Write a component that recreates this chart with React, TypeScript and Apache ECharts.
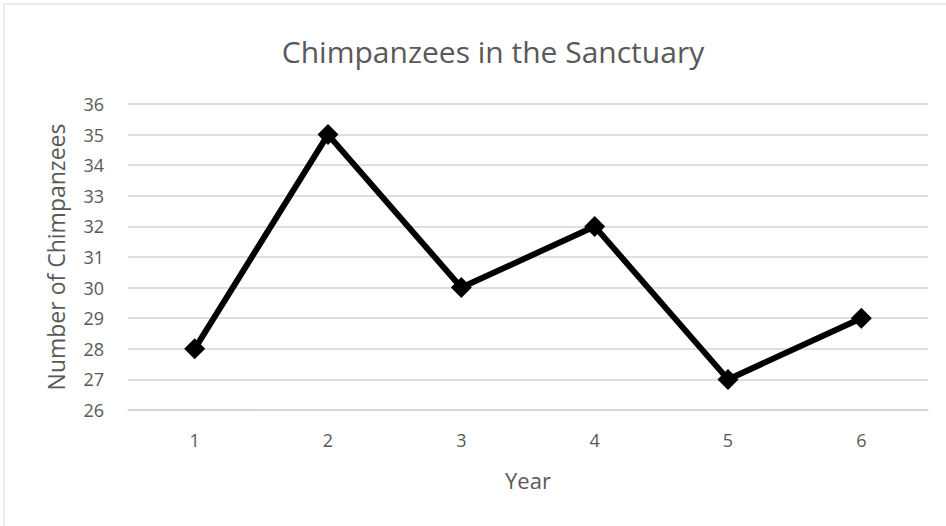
import React, { useEffect, useRef } from "react";
import * as echarts from "echarts";

const years = ["1", "2", "3", "4", "5", "6"];
const chimps = [28, 35, 30, 32, 27, 29];
const titleText = "Chimpanzees in the Sanctuary";
const xName = "Year";
const yName = "Number of Chimpanzees";

const FONT = "'Open Sans', 'Noto Sans', sans-serif";

export default function App() {
  const ref = useRef<HTMLDivElement>(null);
  useEffect(() => {
    document.body.style.margin = "0";
    const chart = echarts.init(ref.current!, null, { renderer: "svg" });
    chart.setOption({
      animation: false,
      backgroundColor: "#ffffff",
      textStyle: { fontFamily: FONT },
      title: {
        text: titleText,
        left: 488,
        textAlign: "center",
        top: 31,
        textStyle: { fontSize: 30, fontWeight: "normal", color: "#595959", fontFamily: FONT },
      },
      graphic: [
        { type: "line", shape: { x1: 4, y1: 4, x2: 946, y2: 4 }, style: { stroke: "#d9d9d9", lineWidth: 1 } },
        { type: "line", shape: { x1: 4, y1: 4, x2: 4, y2: 526 }, style: { stroke: "#d9d9d9", lineWidth: 1 } },
      ],
      grid: { left: 128, right: 18, top: 104, bottom: 116, containLabel: false },
      xAxis: {
        type: "category",
        data: years,
        boundaryGap: true,
        name: xName,
        nameLocation: "middle",
        nameGap: 59,
        nameTextStyle: { fontSize: 22, color: "#595959", fontFamily: FONT },
        axisLine: { show: true, lineStyle: { color: "#d4d4d4", width: 1.5 } },
        axisTick: { show: false },
        axisLabel: { fontSize: 18, color: "#595959", margin: 21, fontFamily: FONT },
      },
      yAxis: {
        type: "value",
        min: 26,
        max: 36,
        interval: 1,
        name: yName,
        nameLocation: "middle",
        nameGap: 61,
        nameTextStyle: { fontSize: 23, color: "#595959", fontFamily: FONT },
        axisLine: { show: false },
        axisTick: { show: false },
        axisLabel: { fontSize: 18, color: "#595959", margin: 24, fontFamily: FONT },
        splitLine: { lineStyle: { color: "#d4d4d4", width: 1.5 } },
      },
      series: [
        {
          type: "line",
          data: chimps,
          symbol: "diamond",
          symbolSize: 21,
          lineStyle: { color: "#000000", width: 6 },
          itemStyle: { color: "#000000" },
        },
      ],
    });
    return () => chart.dispose();
  }, []);
  return <div ref={ref} style={{ width: 946, height: 526 }} />;
}
